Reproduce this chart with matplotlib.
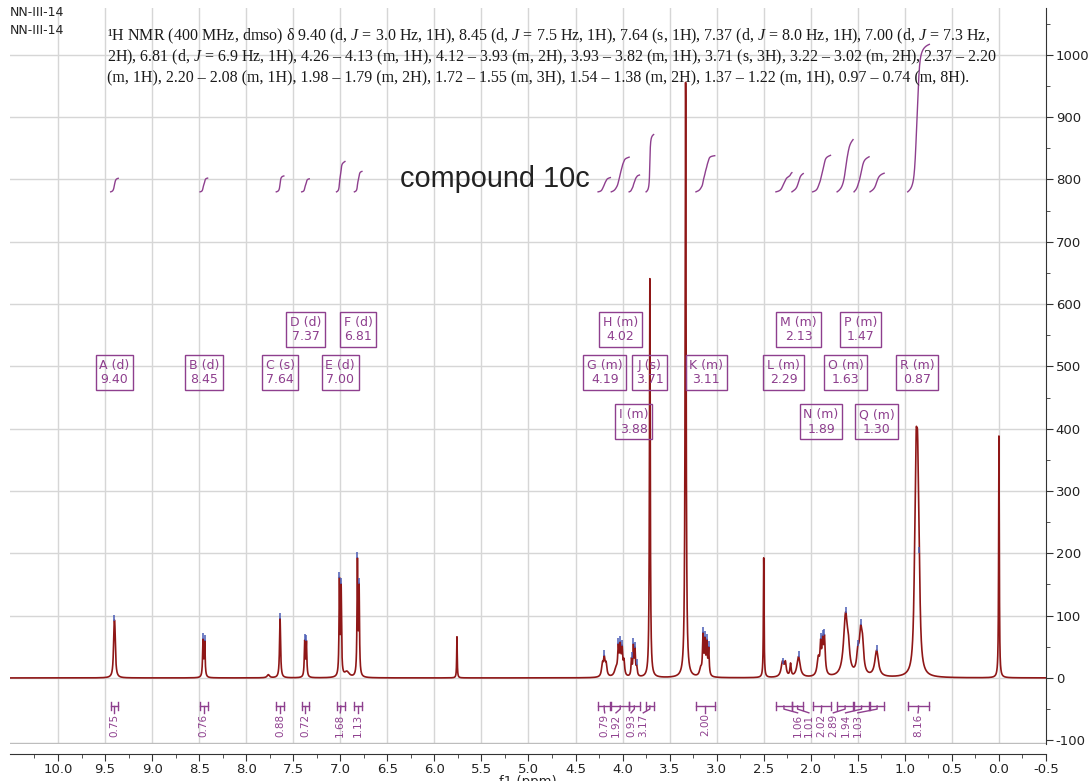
import numpy as np
import matplotlib
matplotlib.use("Agg")
import matplotlib.pyplot as plt

plt.rcParams['mathtext.fontset'] = 'custom'
plt.rcParams['mathtext.rm'] = 'Liberation Serif'
plt.rcParams['mathtext.it'] = 'Liberation Serif:italic'

# ---------------------------------------------------------------- data
# Line components of the 1H spectrum: centre (ppm), height, width at half height (ppm)
peak_ppm = [9.404, 9.396,
            8.459, 8.441,
            7.765,
            7.640,
            7.378, 7.360,
            7.009, 6.991,
            6.930,
            6.818, 6.800,
            5.760,
            4.215, 4.195, 4.175,
            4.070, 4.045, 4.025, 4.005, 3.985,
            3.905, 3.885, 3.868, 3.850,
            3.710,
            3.330,
            3.170, 3.145, 3.125, 3.105, 3.085,
            2.500,
            2.300, 2.270, 2.215,
            2.130,
            1.920, 1.895, 1.875, 1.855,
            1.630, 1.600,
            1.500, 1.470, 1.450,
            1.300,
            0.895, 0.880, 0.865, 0.850,
            0.000]
peak_height = [58, 58,
               58, 55,
               5,
               95,
               56, 55,
               150, 138,
               9,
               182, 138,
               66,
               18, 28, 18,
               12, 42, 43, 40, 22,
               26, 46, 40, 14,
               640,
               955,
               12, 62, 52, 50, 42,
               192,
               24, 20, 20,
               33,
               28, 44, 46, 58,
               98, 28,
               28, 62, 38,
               42,
               80, 250, 230, 120,
               388]
peak_fwhm = [0.016, 0.016,
             0.011, 0.011,
             0.03,
             0.013,
             0.011, 0.011,
             0.010, 0.010,
             0.06,
             0.010, 0.010,
             0.007,
             0.02, 0.022, 0.02,
             0.04, 0.016, 0.016, 0.016, 0.016,
             0.012, 0.012, 0.012, 0.015,
             0.010,
             0.012,
             0.03, 0.013, 0.013, 0.013, 0.013,
             0.008,
             0.035, 0.022, 0.015,
             0.04,
             0.03, 0.016, 0.016, 0.02,
             0.05, 0.03,
             0.03, 0.035, 0.03,
             0.045,
             0.025, 0.025, 0.025, 0.025,
             0.008]

# picked peak tops
pick_ppm = [9.400, 8.459, 8.441, 7.640, 7.378, 7.360, 7.009, 6.991, 6.818, 6.800,
            4.195, 4.045, 4.025, 4.005, 3.905, 3.885, 3.868, 3.850,
            3.145, 3.125, 3.105, 3.085, 2.290, 2.130, 1.895, 1.875, 1.855,
            1.630, 1.500, 1.470, 1.300, 0.845]

# multiplet reports
mult_name = ['A (d)', 'B (d)', 'C (s)', 'D (d)', 'E (d)', 'F (d)', 'G (m)', 'H (m)',
             'I (m)', 'J (s)', 'K (m)', 'L (m)', 'M (m)', 'N (m)', 'O (m)', 'P (m)',
             'Q (m)', 'R (m)']
mult_shift = [9.40, 8.45, 7.64, 7.37, 7.00, 6.81, 4.19, 4.02, 3.88, 3.71, 3.11,
              2.29, 2.13, 1.89, 1.63, 1.47, 1.30, 0.87]

# integration regions (ppm) and normalised values
int_start = [9.44, 8.49, 7.68, 7.41, 7.04, 6.85, 4.26, 4.12, 3.93, 3.75, 3.22,
             2.37, 2.20, 1.98, 1.72, 1.54, 1.37, 0.97]
int_end = [9.36, 8.41, 7.60, 7.33, 6.95, 6.77, 4.13, 3.93, 3.82, 3.67, 3.02,
           2.20, 2.08, 1.79, 1.55, 1.38, 1.22, 0.74]
int_value = [0.75, 0.76, 0.88, 0.72, 1.68, 1.13, 0.79, 1.92, 0.93, 3.17, 2.00,
             1.06, 1.01, 2.02, 2.89, 1.94, 1.03, 8.16]

x_ticks = [10.0, 9.5, 9.0, 8.5, 8.0, 7.5, 7.0, 6.5, 6.0, 5.5, 5.0, 4.5, 4.0,
           3.5, 3.0, 2.5, 2.0, 1.5, 1.0, 0.5, 0.0, -0.5]
y_ticks = [-100, 0, 100, 200, 300, 400, 500, 600, 700, 800, 900, 1000]

sample_id = 'NN-III-14'
title_text = 'compound 10c'
report_lines = [
    '¹H NMR (400 MHz, dmso) δ 9.40 (d, $J$ = 3.0 Hz, 1H), 8.45 (d, $J$ = 7.5 Hz, 1H), '
    '7.64 (s, 1H), 7.37 (d, $J$ = 8.0 Hz, 1H), 7.00 (d, $J$ = 7.3 Hz,',
    '2H), 6.81 (d, $J$ = 6.9 Hz, 1H), 4.26 – 4.13 (m, 1H), 4.12 – 3.93 (m, 2H), '
    '3.93 – 3.82 (m, 1H), 3.71 (s, 3H), 3.22 – 3.02 (m, 2H), 2.37 – 2.20',
    '(m, 1H), 2.20 – 2.08 (m, 1H), 1.98 – 1.79 (m, 2H), 1.72 – 1.55 (m, 3H), '
    '1.54 – 1.38 (m, 2H), 1.37 – 1.22 (m, 1H), 0.97 – 0.74 (m, 8H).',
]

# ---------------------------------------------------------------- layout
purple = '#8e3f8e'
red = '#8f1717'
grid_c = '#d6d6d6'

box_row = [0, 0, 0, 1, 0, 1, 0, 1, 2, 0, 0, 0, 1, 2, 0, 1, 2, 0]
row_y = {0: 490, 1: 559, 2: 411}
int_label_ppm = [9.40, 8.45, 7.64, 7.37, 7.00, 6.81, 4.19, 4.07, 3.91, 3.78, 3.12,
                 2.14, 2.02, 1.89, 1.76, 1.63, 1.50, 0.86]
int_base = 780
int_scale = 29.0

# ---------------------------------------------------------------- spectrum
ppm = np.linspace(10.51, -0.5, 22021)
c = np.array(peak_ppm)[None, :]
h = np.array(peak_height)[None, :]
g = (np.array(peak_fwhm) / 2)[None, :]
spec = (h * g**2 / ((ppm[:, None] - c) ** 2 + g**2)).sum(axis=1)

fig = plt.figure(figsize=(10.91, 7.81), dpi=100)
ax = fig.add_axes([10 / 1091, 1 - 744 / 781, 1036 / 1091, 736 / 781])
ax.set_xlim(10.51, -0.5)
ax.set_ylim(-106, 1075)

for t in x_ticks[:-1]:
    ax.axvline(t, color=grid_c, lw=1, zorder=0)
for t in y_ticks[1:]:
    ax.axhline(t, color=grid_c, lw=1, zorder=0)
ax.axhline(-105, color='#bdbdbd', lw=1, zorder=0)

ax.plot(ppm, spec, color=red, lw=1.2, zorder=3)

# peak picking marks
pick_y = np.interp(pick_ppm, ppm[::-1], spec[::-1])
ax.plot(pick_ppm, pick_y + 4, ls='none', marker='|', ms=5, mew=1.1,
        color='#4a5cb5', zorder=4)

# integral curves
for s, e, v in zip(int_start, int_end, int_value):
    m = (ppm <= s) & (ppm >= e)
    cum = np.cumsum(spec[m])
    cum = cum - cum[0]
    curve = int_base + cum / cum[-1] * v * int_scale
    ax.plot(ppm[m], curve, color=purple, lw=1.0, zorder=4)

# multiplet boxes
for name, sh, r in zip(mult_name, mult_shift, box_row):
    ax.text(sh, row_y[r], f'{name}\n{sh:.2f}', ha='center', va='center',
            multialignment='center', fontsize=9, color=purple, linespacing=1.15,
            family='DejaVu Sans', zorder=5,
            bbox=dict(boxstyle='square,pad=0.3', fc='none', ec=purple, lw=1))

# integration bars under the baseline
bar_y = -45
for s, e, v, lx in zip(int_start, int_end, int_value, int_label_ppm):
    ax.plot([s, e], [bar_y, bar_y], color=purple, lw=1)
    ax.plot([s, s], [bar_y - 6, bar_y + 6], color=purple, lw=1)
    ax.plot([e, e], [bar_y - 6, bar_y + 6], color=purple, lw=1)
    mid = (s + e) / 2
    ax.plot([mid, mid, lx], [bar_y, bar_y - 5, bar_y - 11], color=purple, lw=1)
    ax.text(lx, bar_y - 12, f'{v:.2f}', rotation=90, ha='center', va='top',
            fontsize=7.5, color=purple, family='DejaVu Sans')

# axes styling
for side in ('left', 'top'):
    ax.spines[side].set_visible(False)
ax.spines['bottom'].set_position(('outward', 7))
ax.spines['bottom'].set_color('#333333')
ax.spines['right'].set_color('#333333')
ax.yaxis.tick_right()
ax.set_xticks(x_ticks)
ax.set_xticklabels([f'{t:.1f}' for t in x_ticks])
ax.set_xticks(np.arange(10.25, -0.5, -0.5), minor=True)
ax.set_yticks(y_ticks)
ax.set_yticklabels([str(t) for t in y_ticks])
ax.set_yticks(np.arange(-50, 1075, 100), minor=True)
ax.tick_params(axis='both', which='major', labelsize=9.5, length=5, color='#333333',
               labelcolor='#222222')
ax.tick_params(axis='both', which='minor', length=3, color='#333333')
ax.tick_params(axis='x', which='both', pad=2)
ax.tick_params(axis='y', which='both', pad=2)
ax.set_xlabel('f1 (ppm)', fontsize=9.5, labelpad=-1, color='#222222')

# header texts
fig.text(10 / 1091, 1 - 13 / 781, sample_id, fontsize=9, family='DejaVu Sans',
         va='center', ha='left', color='#222222')
fig.text(10 / 1091, 1 - 31 / 781, sample_id, fontsize=9, family='DejaVu Sans',
         va='center', ha='left', color='#222222')
for i, line in enumerate(report_lines):
    fig.text(107 / 1091, 1 - (36 + 21 * i) / 781, line, fontsize=11.5,
             family='Liberation Serif', va='center', ha='left', color='#1a1a1a')
ax.text(6.37, 800, title_text, fontsize=20.8, family='Liberation Sans',
        va='center', ha='left', color='#222222', zorder=5)

fig.savefig('out.png', dpi=100)
